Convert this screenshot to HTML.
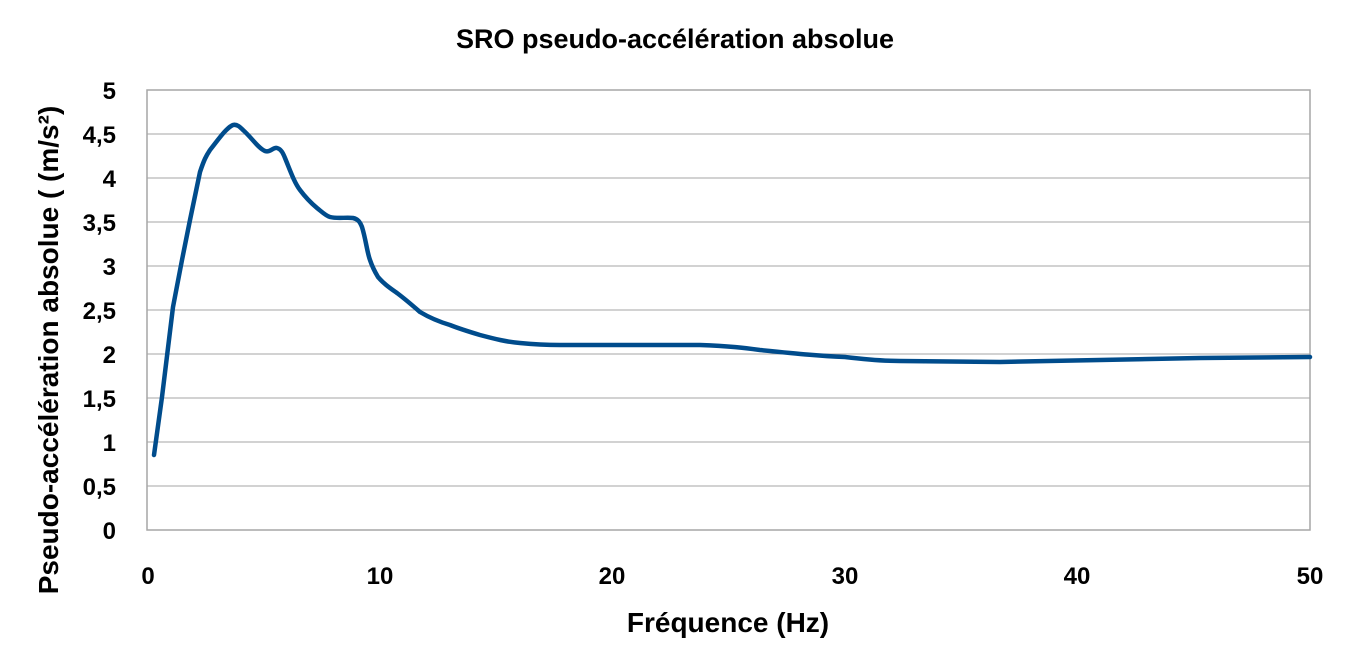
<!DOCTYPE html>
<html><head><meta charset="utf-8"><style>
body{margin:0;background:#fff;}
svg text{font-family:"Liberation Sans",sans-serif;font-weight:bold;fill:#000;}
</style></head><body>
<svg width="1350" height="665" viewBox="0 0 1350 665" xmlns="http://www.w3.org/2000/svg">
<rect width="1350" height="665" fill="#fff"/>
<g stroke="#a6a6a6" stroke-width="1">
<line x1="147" y1="134" x2="1310" y2="134"/>
<line x1="147" y1="178" x2="1310" y2="178"/>
<line x1="147" y1="222" x2="1310" y2="222"/>
<line x1="147" y1="266" x2="1310" y2="266"/>
<line x1="147" y1="310" x2="1310" y2="310"/>
<line x1="147" y1="354" x2="1310" y2="354"/>
<line x1="147" y1="398" x2="1310" y2="398"/>
<line x1="147" y1="442" x2="1310" y2="442"/>
<line x1="147" y1="486" x2="1310" y2="486"/>
</g>
<rect x="147" y="90" width="1163" height="440" fill="none" stroke="#a6a6a6" stroke-width="1.5"/>
<path d="M154,455 L162,397 L173,307 L182,260 L190,220 L200,172 C204,160 206,156 210,150 C218,140 226,128 233,125 C237,124 240,127 243,130 C252,138 258,148 265,151 C270,153 273,147 277,148 C281,149 283,153 285,158 C290,170 294,182 300,190 C306,198 311,203 317,208 C322,212 326,216 330,217 C338,219 346,217 353,218 C358,219 360,222 362,227 C366,240 367,252 370,260 C372,266 375,272 378,277 C384,284 390,288 397,293 C405,299 412,305 420,312 C430,318 440,322 450,325 C460,329 470,332 480,335 C495,339 507,342 520,343 C540,345 550,345 560,345 L612,345 L700,345 C730,346 745,348 760,350 C800,354 820,356 845,357 C870,360 885,361 900,361 L1000,362 L1100,360 L1200,358 L1310,357" fill="none" stroke="#004c8c" stroke-width="4.5" stroke-linejoin="round" stroke-linecap="round"/>
<g font-size="24" text-anchor="end">
<text x="116" y="99">5</text>
<text x="116" y="143">4,5</text>
<text x="116" y="187">4</text>
<text x="116" y="231">3,5</text>
<text x="116" y="275">3</text>
<text x="116" y="319">2,5</text>
<text x="116" y="363">2</text>
<text x="116" y="407">1,5</text>
<text x="116" y="451">1</text>
<text x="116" y="495">0,5</text>
<text x="116" y="539">0</text>
</g>
<g font-size="24" text-anchor="middle">
<text x="148" y="584">0</text>
<text x="380" y="584">10</text>
<text x="612" y="584">20</text>
<text x="845" y="584">30</text>
<text x="1077" y="584">40</text>
<text x="1310" y="584">50</text>
</g>
<text x="675" y="48" font-size="27" text-anchor="middle">SRO pseudo-accélération absolue</text>
<text x="728" y="632" font-size="28" text-anchor="middle">Fréquence (Hz)</text>
<text transform="translate(58,350) rotate(-90)" font-size="28" text-anchor="middle">Pseudo-accélération absolue ( (m/s²)</text>
</svg>
</body></html>
